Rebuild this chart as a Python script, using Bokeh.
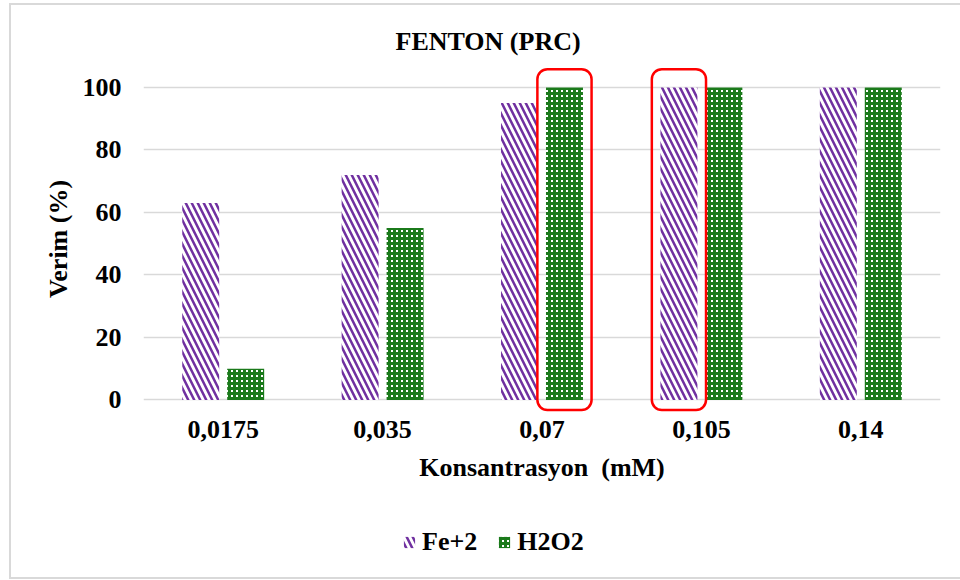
from bokeh.plotting import figure
from bokeh.layouts import column
from bokeh.models import (FactorRange, Range1d, FixedTicker, Legend, LegendItem,
                          ColumnDataSource)
from bokeh.transform import dodge
from bokeh.embed import file_html
from bokeh.resources import INLINE

# ---- data ----
categories = ["0,0175", "0,035", "0,07", "0,105", "0,14"]
fe2 = [63, 72, 95, 100, 100]
h2o2 = [10, 55, 100, 100, 100]
y_ticks = [0, 20, 40, 60, 80, 100]
highlight_cats = ["0,07", "0,105"]
highlight_series = ["H2O2", "Fe+2"]
series_names = ["Fe+2", "H2O2"]

# ---- style ----
FONT = "Liberation Serif"
FS = "26px"
PURPLE = "#7030A0"
GREEN = "#1B7A1B"
GRID = "#D9D9D9"
BAR_W = 0.232
OFFS = {"Fe+2": -0.141, "H2O2": 0.141}
BOX_W = 0.34
BOX_TOP = 105.8
BOX_BOTTOM = -3.2
FE_STYLE = dict(fill_color="white", line_color=None, hatch_pattern="left_diagonal_line",
                hatch_color=PURPLE, hatch_scale=12, hatch_weight=2.5)
H2_STYLE = dict(fill_color="white", line_color=None, hatch_pattern="cross",
                hatch_color=GREEN, hatch_scale=5, hatch_weight=3)

source = ColumnDataSource(dict(cat=categories, fe2=fe2, h2o2=h2o2))

W = 949
p = figure(x_range=FactorRange(factors=categories, range_padding=0),
           y_range=Range1d(-4, 107),
           width=W, height=495,
           output_backend="svg", toolbar_location=None,
           min_border_left=132, min_border_right=20,
           min_border_top=60, min_border_bottom=88)
p.outline_line_color = None
p.background_fill_color = "white"
p.border_fill_color = "white"

r1 = p.vbar(x=dodge("cat", OFFS["Fe+2"], range=p.x_range), top="fe2", width=BAR_W,
            source=source, **FE_STYLE)
r2 = p.vbar(x=dodge("cat", OFFS["H2O2"], range=p.x_range), top="h2o2", width=BAR_W,
            source=source, **H2_STYLE)

# highlight boxes around selected bars
bx = [categories.index(c) + 0.5 + OFFS[s] for c, s in zip(highlight_cats, highlight_series)]
p.quad(left=[x - BOX_W / 2 for x in bx], right=[x + BOX_W / 2 for x in bx],
       top=BOX_TOP, bottom=BOX_BOTTOM, fill_color=None, line_color="#FF0000",
       line_width=2.5, border_radius=10)

# title
p.title.text = "FENTON (PRC)"
p.title.align = "left"
p.title.offset = 252
p.title.standoff = 20
p.title.text_font = FONT
p.title.text_font_size = FS
p.title.text_font_style = "bold"
p.title.text_color = "black"

# axes
for ax in (p.xaxis, p.yaxis):
    ax.axis_line_color = None
    ax.major_tick_line_color = None
    ax.minor_tick_line_color = None
    ax.major_tick_out = 0
    ax.major_tick_in = 0
    ax.major_label_text_font = FONT
    ax.major_label_text_font_size = FS
    ax.major_label_text_font_style = "bold"
    ax.major_label_text_color = "black"
    ax.axis_label_text_font = FONT
    ax.axis_label_text_font_size = FS
    ax.axis_label_text_font_style = "bold"
    ax.axis_label_text_color = "black"

p.yaxis.ticker = FixedTicker(ticks=y_ticks)
p.yaxis.axis_label = "Verim (%)"
p.yaxis.major_label_standoff = 22
p.yaxis.axis_label_standoff = 7
p.xaxis.axis_label = "Konsantrasyon\u00a0 (mM)"
p.xaxis.major_label_standoff = 8
p.xaxis.axis_label_standoff = 12

p.xgrid.grid_line_color = None
p.ygrid.grid_line_color = GRID
p.ygrid.grid_line_width = 1.5

# legend strip below the chart (its bars lie outside its visible y range)
p2 = figure(width=W, height=77, x_range=p.x_range, y_range=Range1d(1000, 1001),
            output_backend="svg", toolbar_location=None,
            x_axis_location=None, y_axis_location=None,
            min_border=0)
p2.outline_line_color = None
p2.grid.grid_line_color = None
p2.background_fill_color = "white"
p2.border_fill_color = "white"
l1 = p2.vbar(x=dodge("cat", OFFS["Fe+2"], range=p2.x_range), top="fe2", width=BAR_W,
             source=source, **FE_STYLE)
l2 = p2.vbar(x=dodge("cat", OFFS["H2O2"], range=p2.x_range), top="h2o2", width=BAR_W,
             source=source, **H2_STYLE)
legend = Legend(items=[LegendItem(label=series_names[0], renderers=[l1]),
                       LegendItem(label=series_names[1], renderers=[l2])],
                orientation="horizontal", location=(259, 20),
                label_text_font=FONT, label_text_font_size=FS,
                label_text_font_style="bold", label_text_color="black",
                glyph_width=14, glyph_height=14, label_standoff=6, spacing=20,
                padding=0, margin=0, border_line_color=None,
                background_fill_alpha=0)
p2.add_layout(legend, "center")

layout = column(p, p2, spacing=0,
                styles={"margin-left": "9px", "margin-top": "3px",
                        "border-left": "2px solid #D9D9D9",
                        "border-top": "2px solid #D9D9D9",
                        "border-bottom": "2px solid #D9D9D9"})

open("out.html", "w").write(file_html(layout, INLINE))
